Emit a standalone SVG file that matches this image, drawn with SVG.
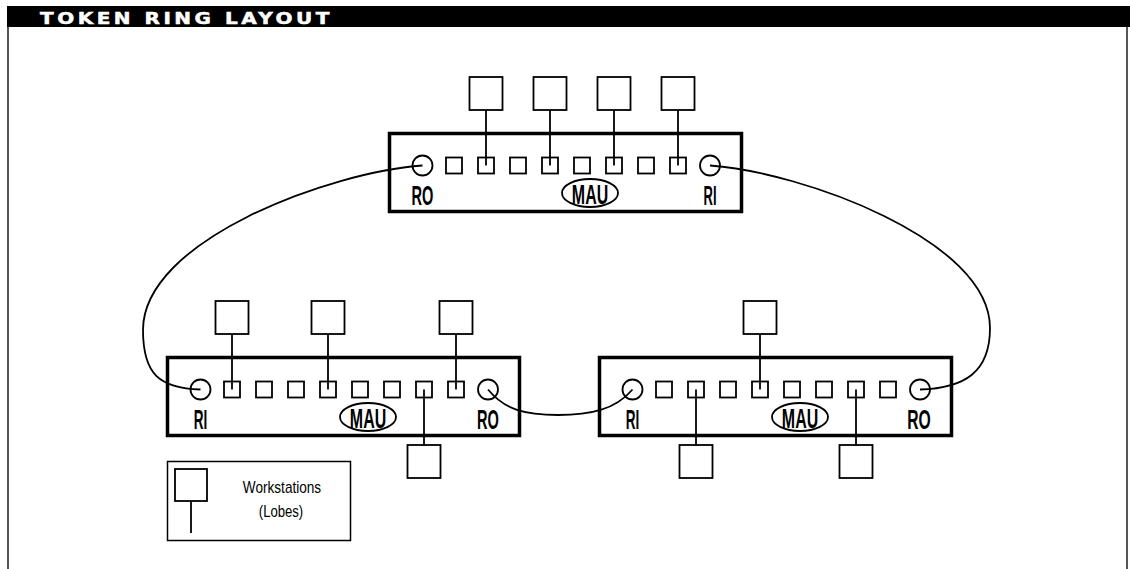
<svg xmlns="http://www.w3.org/2000/svg" width="1130" height="569" viewBox="0 0 1130 569">
<style>
.frame{stroke:#555;stroke-width:2;fill:none}
.box{fill:#fff;stroke:#000;stroke-width:3.5}
.port{fill:#fff;stroke:#000;stroke-width:1.8}
.ring{fill:#fff;stroke:#000;stroke-width:1.8}
.ws{fill:#fff;stroke:#000;stroke-width:1.8}
.wire{fill:none;stroke:#000;stroke-width:1.8}
.lbl{font-family:"Liberation Sans",Arial,sans-serif;font-weight:bold;font-size:27px;fill:#000;text-anchor:middle}
.leg{font-family:"Liberation Sans",Arial,sans-serif;font-size:16px;fill:#000;text-anchor:middle}
.title{font-family:"DejaVu Sans",Verdana,sans-serif;font-weight:bold;font-size:16px;letter-spacing:2.8px;fill:#fff;stroke:#fff;stroke-width:0.5}
</style>
<defs>
<g id="ports">
<rect class="box" x="1.5" y="1.5" width="352" height="78"/>
<rect class="port" x="58" y="25.5" width="16" height="16"/>
<rect class="port" x="90" y="25.5" width="16" height="16"/>
<rect class="port" x="122" y="25.5" width="16" height="16"/>
<rect class="port" x="154" y="25.5" width="16" height="16"/>
<rect class="port" x="186" y="25.5" width="16" height="16"/>
<rect class="port" x="218" y="25.5" width="16" height="16"/>
<rect class="port" x="250" y="25.5" width="16" height="16"/>
<rect class="port" x="282" y="25.5" width="16" height="16"/>
<circle class="ring" cx="34.5" cy="33.5" r="10"/>
<circle class="ring" cx="322" cy="33.5" r="10"/>
<ellipse class="ring" cx="202" cy="61" rx="28" ry="14"/>
<text class="lbl" transform="translate(202,71.5) scale(0.59,1)">MAU</text>
</g>
</defs>
<rect x="7" y="6" width="1123" height="21" fill="#000"/>
<line class="frame" x1="8" y1="27" x2="8" y2="569"/>
<line class="frame" x1="1127" y1="27" x2="1127" y2="569"/>
<text class="title" transform="translate(40,24) scale(1.25,1)">TOKEN RING LAYOUT</text>

<g id="mau-top" transform="translate(388,132)">
<use href="#ports"/>
<text class="lbl" transform="translate(34.5,73) scale(0.54,1)">RO</text>
<text class="lbl" transform="translate(322,73) scale(0.48,1)">RI</text>
</g>
<g id="mau-left" transform="translate(166,356)">
<use href="#ports"/>
<text class="lbl" transform="translate(34.5,73) scale(0.5,1)">RI</text>
<text class="lbl" transform="translate(322,73) scale(0.54,1)">RO</text>
</g>
<g id="mau-right" transform="translate(598,356)">
<use href="#ports"/>
<text class="lbl" transform="translate(34.5,73) scale(0.5,1)">RI</text>
<text class="lbl" transform="translate(321,73) scale(0.58,1)">RO</text>
</g>

<g id="connectors">
<path class="wire" d="M422.5,165.5 C330,172 143,240 143,330 C143,375 160,388 200.5,389.5"/>
<path class="wire" d="M710,165.5 C802,172 990,240 990,328 C990,372 965,388 920,389.5"/>
<path class="wire" d="M488,389.5 C505,410 525,415 558,415 C590,415 615,410 632.5,389.5"/>
<line class="wire" x1="486" y1="110" x2="486" y2="165.5"/>
<line class="wire" x1="550" y1="110" x2="550" y2="165.5"/>
<line class="wire" x1="614" y1="110" x2="614" y2="165.5"/>
<line class="wire" x1="678" y1="110" x2="678" y2="165.5"/>
<line class="wire" x1="232" y1="334" x2="232" y2="389.5"/>
<line class="wire" x1="328" y1="334" x2="328" y2="389.5"/>
<line class="wire" x1="456" y1="334" x2="456" y2="389.5"/>
<line class="wire" x1="424" y1="389.5" x2="424" y2="445"/>
<line class="wire" x1="760" y1="334" x2="760" y2="389.5"/>
<line class="wire" x1="696" y1="389.5" x2="696" y2="445"/>
<line class="wire" x1="856" y1="389.5" x2="856" y2="445"/>
</g>

<g id="ws-t1"><rect class="ws" x="469.5" y="77" width="33" height="33"/></g>
<g id="ws-t2"><rect class="ws" x="533.5" y="77" width="33" height="33"/></g>
<g id="ws-t3"><rect class="ws" x="597.5" y="77" width="33" height="33"/></g>
<g id="ws-t4"><rect class="ws" x="661.5" y="77" width="33" height="33"/></g>
<g id="ws-l1"><rect class="ws" x="215.5" y="301" width="33" height="33"/></g>
<g id="ws-l2"><rect class="ws" x="311.5" y="301" width="33" height="33"/></g>
<g id="ws-l3"><rect class="ws" x="439.5" y="301" width="33" height="33"/></g>
<g id="ws-l4"><rect class="ws" x="407.5" y="445" width="33" height="33"/></g>
<g id="ws-r1"><rect class="ws" x="743.5" y="301" width="33" height="33"/></g>
<g id="ws-r2"><rect class="ws" x="679.5" y="445" width="33" height="33"/></g>
<g id="ws-r3"><rect class="ws" x="839.5" y="445" width="33" height="33"/></g>

<g id="legend">
<rect x="167.5" y="461.5" width="183" height="79" fill="#fff" stroke="#000" stroke-width="1.5"/>
<rect class="ws" x="175" y="469" width="32" height="32"/>
<line class="wire" x1="191" y1="501" x2="191" y2="533"/>
<text class="leg" transform="translate(282,493) scale(0.85,1)">Workstations</text>
<text class="leg" transform="translate(281,517) scale(0.82,1)">(Lobes)</text>
</g>
</svg>
